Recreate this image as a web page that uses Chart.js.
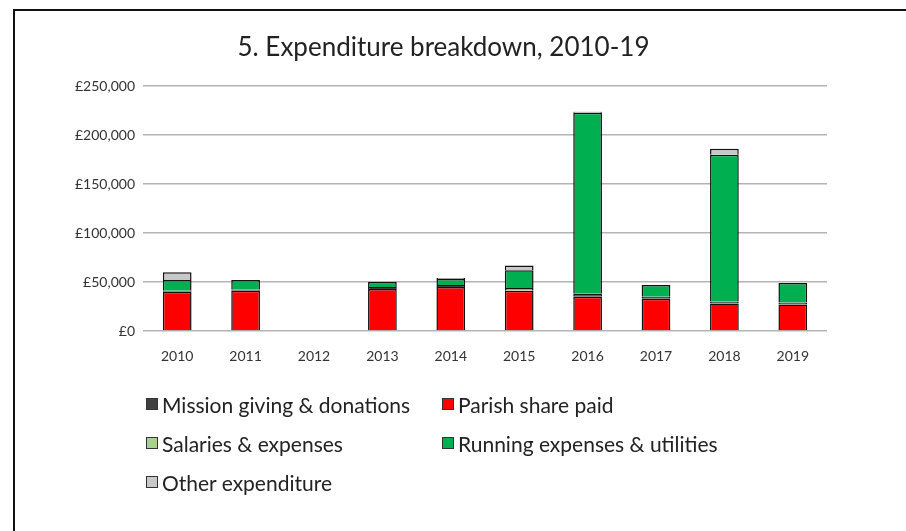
<!DOCTYPE html>
<html>
<head>
<meta charset="utf-8">
<script src="https://cdn.jsdelivr.net/npm/chart.js@4.4.1/dist/chart.umd.min.js"></script>
<style>
  html, body { margin: 0; padding: 0; background: #fff; }
  #wrap { position: relative; width: 906px; height: 531px; overflow: hidden; }
  #frame { position: absolute; left: 13px; top: 9px; right: -10px; bottom: -10px;
           border-top: 2px solid #111; border-left: 2px solid #111; }
  #chart { position: absolute; left: 0; top: 0; }
  #legend { position: absolute; left: 146px; top: 392px; display: grid;
            grid-template-columns: 296px 300px; row-gap: 15px;
            font-family: Lato, sans-serif; font-size: 21px; color: #222; }
  .item { display: flex; align-items: center; white-space: nowrap; height: 24px; }
  .box { width: 10px; height: 10px; border: 1px solid #333; margin-right: 4px; }
</style>
</head>
<body>
<div id="wrap">
  <div id="frame"></div>
  <canvas id="chart" width="906" height="531"></canvas>
  <div id="legend"></div>
</div>
<script>
// values in £ thousands
const years = ['2010', '2011', '2012', '2013', '2014', '2015', '2016', '2017', '2018', '2019'];
const parishShare = [40, 41, 0, 43, 45, 41, 35, 33, 28, 27];
const missionGiving = [1, 1, 0, 2, 2, 0, 3, 2, 2, 2];
const salaries = [0, 0, 0, 0, 0, 3, 0, 0, 0, 0];
const runningCosts = [11, 10, 0, 5, 6, 18, 185, 12, 150, 20];
const otherSpend = [8, 0, 0, 0, 1, 5, 1, 0, 6, 0];
const yTicks = [0, 50000, 100000, 150000, 200000, 250000];

const toPounds = arr => arr.map(v => v * 1000);

// stacking order bottom->top, legend order set separately
const datasets = [
  { label: 'Parish share paid', data: toPounds(parishShare), backgroundColor: '#ff0000', legendPos: 1 },
  { label: 'Mission giving & donations', data: toPounds(missionGiving), backgroundColor: '#404040', legendPos: 0 },
  { label: 'Salaries & expenses', data: toPounds(salaries), backgroundColor: '#a9d18e', legendPos: 2 },
  { label: 'Running expenses & utilities', data: toPounds(runningCosts), backgroundColor: '#00b050', legendPos: 3 },
  { label: 'Other expenditure', data: toPounds(otherSpend), backgroundColor: '#c8c8c8', legendPos: 4 },
].map(d => ({ ...d, borderColor: '#111', borderWidth: 1.5, barPercentage: 0.42, categoryPercentage: 1 }));

const fmt = v => '£' + v.toLocaleString('en-GB');

const chart = new Chart(document.getElementById('chart'), {
  type: 'bar',
  data: { labels: years, datasets: datasets },
  options: {
    responsive: false,
    animation: false,
    layout: { padding: { left: 60, right: 79, top: 10, bottom: 170 } },
    plugins: {
      legend: { display: false },
      tooltip: { enabled: false },
      title: {
        display: true,
        text: '5. Expenditure breakdown, 2010-19',
        color: '#222',
        font: { family: 'Lato', size: 26, weight: 'normal' },
        padding: { top: 22, bottom: 23 },
      },
    },
    scales: {
      x: {
        stacked: true,
        grid: { display: false },
        border: { display: false },
        ticks: { color: '#333', font: { family: 'Lato', size: 14 }, padding: 9 },
        afterFit: s => { s.height = 30; },
      },
      y: {
        stacked: true,
        min: 0,
        max: 250000,
        afterBuildTicks: s => { s.ticks = yTicks.map(v => ({ value: v })); },
        grid: { color: '#b4b4b4', lineWidth: 1.5, drawTicks: false },
        border: { display: false },
        ticks: { color: '#333', font: { family: 'Lato', size: 14 }, padding: 8, callback: v => fmt(v) },
        afterFit: s => { s.width = 83; },
      },
    },
  },
});

// two-column legend like the original
const legendEl = document.getElementById('legend');
[...datasets].sort((a, b) => a.legendPos - b.legendPos).forEach(d => {
  const item = document.createElement('div');
  item.className = 'item';
  item.innerHTML = '<span class="box" style="background:' + d.backgroundColor + '"></span><span></span>';
  item.lastChild.textContent = d.label;
  legendEl.appendChild(item);
});
</script>
</body>
</html>
